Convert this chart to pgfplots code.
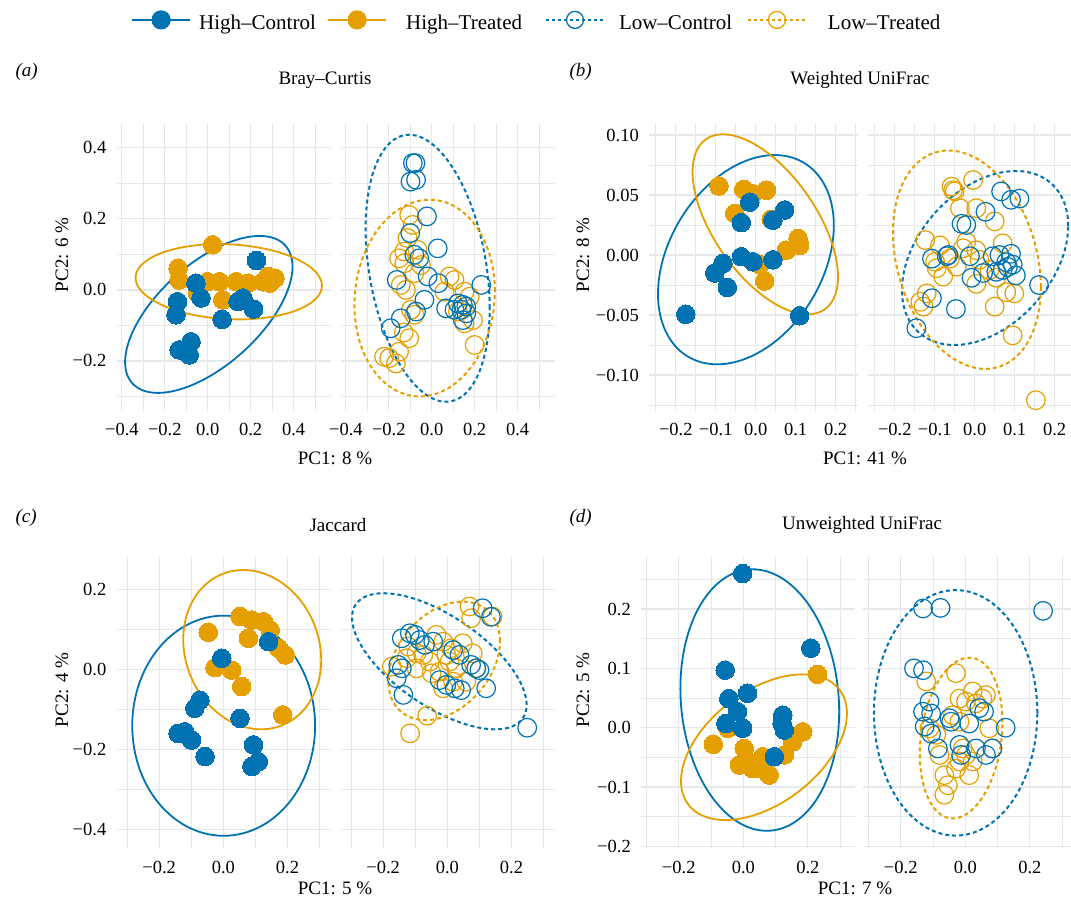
\documentclass[border=0pt]{standalone}
\usepackage{fontspec}
\setmainfont{Liberation Serif}
\usepackage{pgfplots}
\pgfplotsset{compat=1.18}
\definecolor{cblue}{HTML}{0072B2}
\definecolor{corange}{HTML}{E69F00}
\definecolor{gridc}{HTML}{E5E9EC}
\newcommand\tickf{\fontsize{18.5}{20}\selectfont}
\newcommand\titf{\fontsize{19}{21}\selectfont}
\newcommand\axf{\fontsize{19}{21}\selectfont}
\newcommand\legf{\fontsize{21}{23}\selectfont}
\pgfplotsset{
 facet/.style={scale only axis, anchor=north west,
   axis line style={draw=none}, tick style={draw=none},
   grid=both, major grid style={line width=1.2pt, color=gridc},
   minor grid style={line width=0.8pt, color=gridc},
   tick label style={font=\tickf},
   xticklabel style={inner sep=0pt, anchor=north, yshift=-12pt},
   yticklabel style={inner sep=0pt, anchor=east, xshift=-10pt},
   legend image code/.code={\draw[mark repeat=2,mark phase=2] plot coordinates {(0pt,0pt) (29pt,0pt) (58pt,0pt)};},
 },
 hc/.style={only marks, mark=*, mark size=9.3pt, color=cblue, mark options={draw=cblue, fill=cblue, line width=0pt}},
 ht/.style={only marks, mark=*, mark size=9.3pt, color=corange, mark options={draw=corange, fill=corange, line width=0pt}},
 lc/.style={only marks, mark=o, mark size=9.3pt, color=cblue, mark options={draw=cblue, line width=1.2pt}},
 lt/.style={only marks, mark=o, mark size=9.3pt, color=corange, mark options={draw=corange, line width=1.2pt}},
 ell/.style={no marks, line width=1.8pt, domain=0:360, samples=121},
 cell/.style={ell, cblue},
 tell/.style={ell, corange},
 dcell/.style={ell, cblue, line width=2pt, dash pattern=on 4pt off 3pt},
 dtell/.style={ell, corange, line width=2pt, dash pattern=on 4pt off 3pt},
 leg/.style={legend style={draw=none, fill=none, inner sep=0pt, outer sep=0pt, anchor=west,
    nodes={inner sep=0pt, font=\legf}, /tikz/every odd column/.append style={column sep=#1}}},
}
\begin{document}
\begin{tikzpicture}
\path[use as bounding box] (0pt,0pt) rectangle (1071pt,-903pt);
% ---------------- (a) Bray-Curtis ----------------
\begin{axis}[facet, at={(116.5pt,-123pt)}, width=214pt, height=288pt,
 xmin=-0.425, xmax=0.572, ymin=-0.341, ymax=0.470,
 xtick={-0.4,-0.2,0,0.2,0.4}, xticklabels={−0.4,−0.2,0.0,0.2,0.4},
 minor xtick={-0.3,-0.1,0.1,0.3,0.5},
 ytick={-0.2,0,0.2,0.4}, yticklabels={−0.2,0.0,0.2,0.4},
 minor ytick={-0.3,-0.1,0.1,0.3},
 leg=8pt, legend style={at={(axis description cs:0.0678,1.358)}}]
\addlegendimage{cblue, line width=2.2pt, mark=*, mark size=8.5pt, mark options={solid, draw=cblue, fill=cblue}}
\addlegendentry{\raisebox{-0.33em}{High–Control}}
\addplot[ht] coordinates {(0.023,0.127) (-0.138,0.061) (-0.133,0.028) (0.0,0.023) (0.055,0.023) (-0.047,-0.009) (0.07,-0.028) (0.133,0.023) (0.188,0.019) (0.258,0.023) (0.281,0.038) (0.313,0.033) (0.289,0.019)};
\addplot[hc] coordinates {(0.227,0.083) (-0.055,0.019) (-0.031,-0.023) (-0.141,-0.033) (-0.148,-0.070) (0.067,-0.083) (0.141,-0.033) (0.164,-0.023) (0.214,-0.054) (-0.133,-0.169) (-0.078,-0.146) (-0.086,-0.183)};
\addplot[cell] ({0.005+0.39*cos(x)},{-0.069+0.221*cos(x-52.6)});
\addplot[tell] ({0.098+0.434*cos(x)},{0.023+0.106*cos(x-96)});
\end{axis}
\begin{axis}[facet, at={(340.5pt,-123pt)}, width=214pt, height=288pt,
 xmin=-0.425, xmax=0.572, ymin=-0.341, ymax=0.470,
 xtick={-0.4,-0.2,0,0.2,0.4}, xticklabels={−0.4,−0.2,0.0,0.2,0.4},
 minor xtick={-0.3,-0.1,0.1,0.3,0.5},
 ytick={-0.2,0,0.2,0.4}, yticklabels={},
 minor ytick={-0.3,-0.1,0.1,0.3},
 leg=19pt, legend style={at={(axis description cs:-0.0631,1.358)}}]
\addlegendimage{corange, line width=2.2pt, mark=*, mark size=8.5pt, mark options={solid, draw=corange, fill=corange}}
\addlegendentry{\raisebox{-0.33em}{High–Treated}}
\addplot[lt] coordinates {(-0.105,0.211) (-0.089,0.183) (-0.113,0.146) (-0.152,0.089) (-0.128,0.108) (-0.066,0.113) (-0.128,0.075) (-0.081,0.047) (-0.144,0.014) (-0.12,0.0) (-0.097,-0.056) (-0.081,-0.07) (-0.105,-0.136) (-0.152,-0.174) (-0.222,-0.188) (-0.198,-0.192) (-0.167,-0.207) (0.083,0.038) (0.106,0.028) (0.059,-0.005) (0.153,-0.005) (0.177,-0.019) (0.122,-0.061) (0.192,-0.085) (0.153,-0.094) (0.2,-0.155) (-0.05,0.07) (-0.13,-0.12)};
\addplot[lc] coordinates {(-0.088,0.357) (-0.076,0.357) (-0.099,0.305) (-0.073,0.31) (-0.022,0.207) (0.028,0.117) (-0.1,0.16) (-0.081,0.099) (-0.058,0.089) (-0.163,0.028) (-0.019,0.038) (0.031,0.019) (0.231,0.014) (-0.034,-0.028) (-0.073,-0.061) (-0.144,-0.08) (-0.191,-0.108) (0.067,-0.052) (0.122,-0.038) (0.145,-0.042) (0.161,-0.047) (0.138,-0.056) (0.106,-0.056) (0.161,-0.066) (0.145,-0.085)};
\addplot[dcell] ({-0.019+0.289*cos(x)},{0.061+0.376*cos(x-107.3)});
\addplot[dtell] ({-0.033+0.327*cos(x)},{-0.023+0.277*cos(x-86)});
\end{axis}
% ---------------- (b) Weighted UniFrac ----------------
\begin{axis}[facet, at={(649pt,-123pt)}, width=209pt, height=288pt,
 xmin=-0.267, xmax=0.256, ymin=-0.13, ymax=0.11,
 xtick={-0.2,-0.1,0,0.1,0.2}, xticklabels={−0.2,−0.1,0.0,0.1,0.2},
 minor xtick={-0.25,-0.15,-0.05,0.05,0.15,0.25},
 ytick={-0.1,-0.05,0,0.05,0.1}, yticklabels={−0.10,−0.05,0.00,0.05,0.10},
 minor ytick={-0.125,-0.075,-0.025,0.025,0.075},
 leg=14pt, legend style={at={(axis description cs:-0.4976,1.358)}}]
\addlegendimage{cblue, line width=2pt, dash pattern=on 3pt off 3pt, mark=o, mark size=8.5pt, mark options={solid, line width=1.3pt}}
\addlegendentry{\raisebox{-0.33em}{Low–Control}}
\addplot[ht] coordinates {(-0.092,0.0575) (-0.03,0.0547) (0.027,0.054) (-0.0525,0.0347) (0.039,0.0297) (-0.007,0.051) (0.077,0.004) (0.106,0.0139) (0.11,0.008) (0.01,-0.008) (0.0225,-0.0217)};
\addplot[hc] coordinates {(-0.175,-0.0494) (-0.015,0.044) (-0.036,0.027) (0.043,0.029) (0.0725,0.0375) (-0.082,-0.007) (-0.1025,-0.015) (-0.071,-0.027) (-0.036,-0.0014) (-0.007,-0.0056) (0.043,-0.004) (0.11,-0.0506)};
\addplot[cell] ({-0.0245+0.22*cos(x)},{-0.0039+0.0872*cos(x-70.9)});
\addplot[tell] ({0.024+0.182*cos(x)},{0.0256+0.075*cos(x-125.6)});
\end{axis}
\begin{axis}[facet, at={(868pt,-123pt)}, width=209pt, height=288pt,
 xmin=-0.267, xmax=0.256, ymin=-0.13, ymax=0.11,
 xtick={-0.2,-0.1,0,0.1,0.2}, xticklabels={−0.2,−0.1,0.0,0.1,0.2},
 minor xtick={-0.25,-0.15,-0.05,0.05,0.15,0.25},
 ytick={-0.1,-0.05,0,0.05,0.1}, yticklabels={},
 minor ytick={-0.125,-0.075,-0.025,0.025,0.075},
 leg=21pt, legend style={at={(axis description cs:-0.579,1.358)}}]
\addlegendimage{corange, line width=2pt, dash pattern=on 3pt off 3pt, mark=o, mark size=8.5pt, mark options={solid, line width=1.3pt}}
\addlegendentry{\raisebox{-0.33em}{Low–Treated}}
\addplot[lt] coordinates {(0.153,-0.121) (0.095,-0.067) (0.05,-0.043) (0.079,-0.031) (0.099,-0.032) (-0.128,-0.043) (-0.12,-0.032) (-0.136,-0.039) (-0.004,0.0625) (-0.058,0.057) (-0.05,0.053) (-0.054,0.054) (-0.037,0.039) (0.004,0.039) (0.05,0.028) (-0.124,0.0125) (-0.087,0.008) (-0.099,-0.0056) (-0.095,-0.011) (-0.079,-0.018) (-0.062,-0.003) (-0.045,-0.0097) (-0.029,0.0056) (-0.021,0.011) (0.004,0.004) (0.012,-0.004) (0.004,-0.024) (0.037,-0.0125) (0.054,-0.019) (0.07,0.0097)};
\addplot[lc] coordinates {(-0.146,-0.061) (-0.107,-0.036) (-0.047,-0.045) (0.161,-0.025) (0.066,0.053) (0.091,0.046) (0.112,0.047) (-0.033,0.026) (-0.021,0.025) (0.027,0.036) (-0.107,-0.003) (-0.07,-0.001) (-0.066,0) (-0.012,-0.001) (-0.008,-0.019) (0.021,-0.015) (0.045,-0.001) (0.062,0) (0.079,-0.006) (0.091,0.001) (0.095,-0.008) (0.103,-0.017) (0.07,-0.0125) (0.054,-0.014) (0.083,-0.01)};
\addplot[dcell] ({0.026+0.208*cos(x)},{-0.0025+0.0725*cos(x-68.3)});
\addplot[dtell] ({-0.0195+0.185*cos(x)},{-0.0039+0.091*cos(x-104.5)});
\end{axis}
% ---------------- (c) Jaccard ----------------
\begin{axis}[facet, at={(116.5pt,-556pt)}, width=214pt, height=293pt,
 xmin=-0.333, xmax=0.334, ymin=-0.449, ymax=0.283,
 xtick={-0.2,0,0.2}, xticklabels={−0.2,0.0,0.2},
 minor xtick={-0.3,-0.1,0.1,0.3},
 ytick={-0.4,-0.2,0,0.2}, yticklabels={−0.4,−0.2,0.0,0.2},
 minor ytick={-0.3,-0.1,0.1}]
\addplot[ht] coordinates {(0.052,0.132) (0.089,0.123) (0.125,0.119) (0.146,0.098) (0.078,0.0775) (0.172,0.0525) (0.193,0.036) (-0.047,0.0925) (-0.026,0.004) (0.026,-0.002) (0.057,-0.043) (0.185,-0.114)};
\addplot[hc] coordinates {(-0.005,0.0275) (0.141,0.069) (-0.073,-0.077) (-0.089,-0.0975) (0.052,-0.1225) (-0.141,-0.16) (-0.12,-0.156) (-0.099,-0.177) (-0.057,-0.218) (0.094,-0.189) (0.109,-0.231) (0.089,-0.243)};
\addplot[cell] ({0.001+0.285*cos(x)},{-0.141+0.275*cos(x-90)});
\addplot[tell] ({0.09+0.215*cos(x)},{0.049+0.199*cos(x-97.4)});
\end{axis}
\begin{axis}[facet, at={(340.5pt,-556pt)}, width=214pt, height=293pt,
 xmin=-0.333, xmax=0.334, ymin=-0.449, ymax=0.283,
 xtick={-0.2,0,0.2}, xticklabels={−0.2,0.0,0.2},
 minor xtick={-0.3,-0.1,0.1,0.3},
 ytick={-0.4,-0.2,0,0.2}, yticklabels={},
 minor ytick={-0.3,-0.1,0.1}]
\addplot[lt] coordinates {(0.069,0.157) (0.074,0.1275) (0.141,0.132) (-0.116,-0.16) (-0.063,-0.116) (-0.173,0.0067) (-0.122,0.057) (-0.096,0.04) (-0.127,0.0275) (-0.034,0.086) (-0.013,0.069) (0.012,0.0525) (-0.003,0.036) (0.007,0.019) (0.028,0.0025) (-0.024,-0.006) (-0.049,-0.01) (0.048,0.065) (0.079,0.04) (0.09,0.0025) (0.059,-0.031) (0.018,-0.031) (-0.013,-0.0475) (-0.096,0.0025) (-0.075,0.036) (-0.055,0.019)};
\addplot[lc] coordinates {(0.249,-0.146) (0.110,0.1525) (0.136,0.131) (0.121,-0.0475) (-0.137,-0.064) (-0.158,-0.0225) (-0.142,0.0025) (-0.153,0.011) (-0.142,0.0775) (-0.117,0.09) (-0.101,0.086) (-0.086,0.073) (-0.070,0.061) (-0.044,0.069) (0.018,0.048) (0.038,0.036) (0.074,0.011) (0.09,0.0025) (0.1,-0.002) (-0.024,-0.027) (-0.003,-0.039) (0.023,-0.0475) (0.043,-0.052)};
\addplot[dcell] ({-0.025+0.272*cos(x)},{0.02+0.17*cos(x-129.8)});
\addplot[dtell] ({-0.01+0.174*cos(x)},{0.021+0.148*cos(x-70.5)});
\end{axis}
% ---------------- (d) Unweighted UniFrac ----------------
\begin{axis}[facet, at={(641pt,-556pt)}, width=214pt, height=293pt,
 xmin=-0.317, xmax=0.346, ymin=-0.2046, ymax=0.2895,
 xtick={-0.2,0,0.2}, xticklabels={−0.2,0.0,0.2},
 minor xtick={-0.3,-0.1,0.1,0.3},
 ytick={-0.2,-0.1,0,0.1,0.2}, yticklabels={−0.2,−0.1,0.0,0.1,0.2},
 minor ytick={-0.15,-0.05,0.05,0.15,0.25}]
\addplot[ht] coordinates {(0.23,0.09) (-0.093,-0.028) (-0.048,-0.001) (0.003,-0.035) (-0.012,-0.063) (0.019,-0.06) (0.029,-0.069) (0.06,-0.049) (0.08,-0.08) (0.127,-0.046) (0.153,-0.024) (0.184,-0.007) (0.05,-0.069)};
\addplot[hc] coordinates {(-0.002,0.260) (0.209,0.134) (-0.056,0.097) (-0.045,0.049) (0.013,0.058) (-0.018,0.027) (-0.054,0.007) (-0.002,-0.001) (0.122,0.021) (0.12,0.007) (0.127,-0.004) (0.096,-0.049)};
\addplot[cell] ({0.051+0.246*cos(x)},{0.0466+0.2205*cos(x-95.1)});
\addplot[tell] ({0.064+0.257*cos(x)},{-0.0329+0.1228*cos(x-62.3)});
\end{axis}
\begin{axis}[facet, at={(863pt,-556pt)}, width=214pt, height=293pt,
 xmin=-0.317, xmax=0.346, ymin=-0.2046, ymax=0.2895,
 xtick={-0.2,0,0.2}, xticklabels={−0.2,0.0,0.2},
 minor xtick={-0.3,-0.1,0.1,0.3},
 ytick={-0.2,-0.1,0,0.1,0.2}, yticklabels={},
 minor ytick={-0.15,-0.05,0.05,0.15,0.25}]
\addplot[lt] coordinates {(-0.121,0.078) (-0.029,0.092) (0.023,0.061) (-0.018,0.049) (0.002,0.044) (0.064,0.055) (0.033,0.041) (0.053,0.049) (-0.111,-0.001) (-0.09,-0.012) (0.074,-0.001) (-0.08,-0.046) (-0.065,-0.08) (-0.054,-0.097) (-0.065,-0.113) (-0.029,-0.069) (-0.018,-0.057) (0.002,-0.046) (0.012,-0.08) (0.023,-0.057) (-0.008,-0.035) (0.084,-0.035) (-0.039,0.021) (-0.018,0.01)};
\addplot[lc] coordinates {(-0.131,0.201) (-0.077,0.202) (0.241,0.197) (-0.159,0.1) (-0.131,0.097) (-0.111,0.044) (-0.131,0.027) (-0.106,0.024) (-0.126,0.002) (-0.106,-0.01) (-0.085,-0.035) (-0.049,0.016) (-0.044,0.01) (0.012,0.007) (0.043,0.033) (0.058,0.027) (0.125,0.0) (0.084,-0.035) (0.064,-0.046) (-0.018,-0.029) (-0.013,-0.046) (0.033,-0.035)};
\addplot[dcell] ({-0.03+0.253*cos(x)},{0.025+0.207*cos(x-90)});
\addplot[dtell] ({-0.013+0.128*cos(x)},{-0.0175+0.1355*cos(x-78.6)});
\end{axis}
% ---------------- texts ----------------
\node[font=\titf, anchor=west] at (12pt,-72pt) {\textit{(a)}};
\node[font=\titf, anchor=west] at (566pt,-72pt) {\textit{(b)}};
\node[font=\titf, anchor=west] at (12pt,-518pt) {\textit{(c)}};
\node[font=\titf, anchor=west] at (566pt,-518pt) {\textit{(d)}};
\node[font=\titf] at (325pt,-80pt) {Bray–Curtis};
\node[font=\titf] at (860pt,-80pt) {Weighted UniFrac};
\node[font=\titf] at (338pt,-525pt) {Jaccard};
\node[font=\titf] at (862pt,-525pt) {Unweighted UniFrac};
\node[font=\axf] at (335pt,-458pt) {PC1: 8 \%};
\node[font=\axf] at (865pt,-458pt) {PC1: 41 \%};
\node[font=\axf] at (335pt,-888pt) {PC1: 5 \%};
\node[font=\axf] at (855pt,-888pt) {PC1: 7 \%};
\node[font=\axf, rotate=90] at (62pt,-255pt) {PC2: 6 \%};
\node[font=\axf, rotate=90] at (583pt,-255pt) {PC2: 8 \%};
\node[font=\axf, rotate=90] at (62pt,-690pt) {PC2: 4 \%};
\node[font=\axf, rotate=90] at (583pt,-690pt) {PC2: 5 \%};
\end{tikzpicture}
\end{document}
